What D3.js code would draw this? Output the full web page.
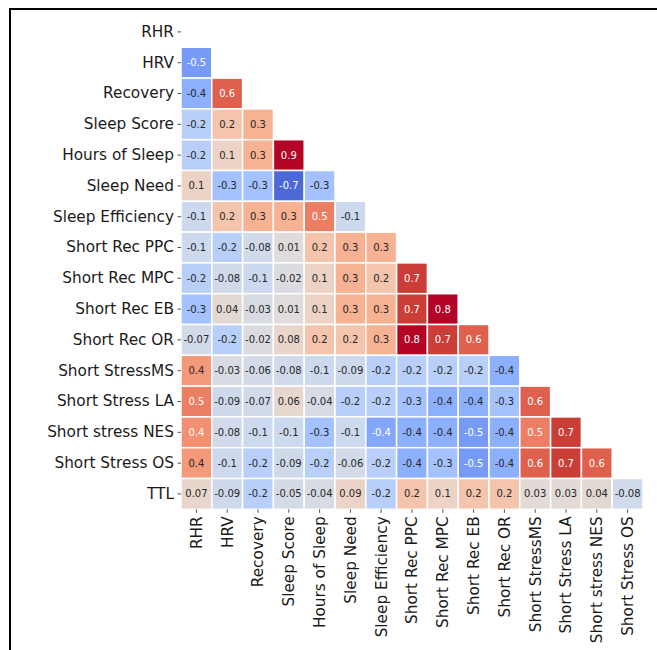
<!DOCTYPE html>
<html lang="en">
<head>
    <meta charset="UTF-8">
    <title>Correlation heatmap</title>
    <script src="https://d3js.org/d3.v7.min.js"></script>
    <style>
        body { margin: 0; background: #fff; }
        svg text { font-family: "DejaVu Sans", sans-serif; }
    </style>
</head>
<body>
    <script>
        const w = 657;
        const h = 650;

        // row labels (y axis) and column labels (x axis, TTL dropped)
        const rowLabels = ["RHR", "HRV", "Recovery", "Sleep Score", "Hours of Sleep", "Sleep Need",
            "Sleep Efficiency", "Short Rec PPC", "Short Rec MPC", "Short Rec EB", "Short Rec OR",
            "Short StressMS", "Short Stress LA", "Short stress NES", "Short Stress OS", "TTL"];
        const colLabels = ["RHR", "HRV", "Recovery", "Sleep Score", "Hours of Sleep", "Sleep Need",
            "Sleep Efficiency", "Short Rec PPC", "Short Rec MPC", "Short Rec EB", "Short Rec OR",
            "Short StressMS", "Short Stress LA", "Short stress NES", "Short Stress OS"];

        // lower triangle values, one array per row (RHR row is fully masked)
        const rowRHR = [];
        const rowHRV = [-0.5];
        const rowRecovery = [-0.4, 0.6];
        const rowSleepScore = [-0.2, 0.2, 0.3];
        const rowHoursSleep = [-0.2, 0.1, 0.3, 0.9];
        const rowSleepNeed = [0.1, -0.3, -0.3, -0.7, -0.3];
        const rowSleepEff = [-0.1, 0.2, 0.3, 0.3, 0.5, -0.1];
        const rowRecPPC = [-0.1, -0.2, -0.08, 0.01, 0.2, 0.3, 0.3];
        const rowRecMPC = [-0.2, -0.08, -0.1, -0.02, 0.1, 0.3, 0.2, 0.7];
        const rowRecEB = [-0.3, 0.04, -0.03, 0.01, 0.1, 0.3, 0.3, 0.7, 0.8];
        const rowRecOR = [-0.07, -0.2, -0.02, 0.08, 0.2, 0.2, 0.3, 0.8, 0.7, 0.6];
        const rowStressMS = [0.4, -0.03, -0.06, -0.08, -0.1, -0.09, -0.2, -0.2, -0.2, -0.2, -0.4];
        const rowStressLA = [0.5, -0.09, -0.07, 0.06, -0.04, -0.2, -0.2, -0.3, -0.4, -0.4, -0.3, 0.6];
        const rowStressNES = [0.44, -0.08, -0.1, -0.1, -0.3, -0.1, -0.44, -0.4, -0.4, -0.5, -0.4, 0.5, 0.7];
        const rowStressOS = [0.4, -0.1, -0.2, -0.09, -0.2, -0.06, -0.2, -0.4, -0.3, -0.5, -0.4, 0.6, 0.7, 0.6];
        const rowTTL = [0.07, -0.09, -0.2, -0.05, -0.04, 0.09, -0.2, 0.2, 0.1, 0.2, 0.2, 0.03, 0.03, 0.04, -0.08];

        const rows = [rowRHR, rowHRV, rowRecovery, rowSleepScore, rowHoursSleep, rowSleepNeed,
            rowSleepEff, rowRecPPC, rowRecMPC, rowRecEB, rowRecOR, rowStressMS, rowStressLA,
            rowStressNES, rowStressOS, rowTTL];

        // coolwarm colormap stops (Moreland)
        const coolwarm = ["#3b4cc0", "#445acc", "#4d68d7", "#5775e1", "#6282ea", "#6c8ef1", "#779af7",
            "#82a5fb", "#8db0fe", "#98b9ff", "#a3c2ff", "#aec9fd", "#b8d0f9", "#c2d5f4", "#ccd9ee",
            "#d5dbe6", "#dddddd", "#e5d8d1", "#ecd3c5", "#f1ccb8", "#f5c4ac", "#f7bb9f", "#f7b193",
            "#f7a686", "#f49a7b", "#f18d6f", "#ec7f63", "#e57059", "#de604d", "#d55042", "#cb3e38",
            "#c0282f", "#b40426"];

        const color = d3.scaleSequential(d3.piecewise(d3.interpolateRgb, coolwarm))
                        .domain([-0.8, 0.8])
                        .clamp(true);

        const fmt = v => d3.format(".1g")(v).replace("\u2212", "-");

        // relative luminance, same rule as seaborn for annotation colour
        const lum = c => {
            const rgb = d3.rgb(c);
            const f = v => { v /= 255; return v <= 0.03928 ? v / 12.92 : Math.pow((v + 0.055) / 1.055, 2.4); };
            return 0.2126 * f(rgb.r) + 0.7152 * f(rgb.g) + 0.0722 * f(rgb.b);
        };

        // flatten into cells
        const cells = [];
        rows.forEach((vals, i) => {
            vals.forEach((v, j) => cells.push({row: rowLabels[i], col: colLabels[j], value: v}));
        });

        const padLeft = 181;
        const padTop = 16.5;
        const cell = 30.8;
        const labelSize = "15.3px";

        const xScale = d3.scaleBand()
                         .domain(colLabels)
                         .range([padLeft, padLeft + cell * colLabels.length]);
        const yScale = d3.scaleBand()
                         .domain(rowLabels)
                         .range([padTop, padTop + cell * rowLabels.length]);

        const svg = d3.select("body")
                      .append("svg")
                      .attr("width", w)
                      .attr("height", h)
                      .attr("viewBox", [0, 0, w, h]);

        // frame of the screenshot
        svg.append("rect")
           .attr("x", 10)
           .attr("y", 9)
           .attr("width", w + 20)
           .attr("height", h + 20)
           .attr("fill", "none")
           .attr("stroke", "#000")
           .attr("stroke-width", 2);

        // cells
        svg.selectAll("rect.cell")
           .data(cells)
           .enter()
           .append("rect")
           .attr("class", "cell")
           .attr("x", d => xScale(d.col))
           .attr("y", d => yScale(d.row))
           .attr("width", xScale.bandwidth())
           .attr("height", yScale.bandwidth())
           .attr("fill", d => color(d.value))
           .attr("stroke", "#fff")
           .attr("stroke-width", 1.5);

        // annotations
        svg.selectAll("text.annot")
           .data(cells)
           .enter()
           .append("text")
           .attr("class", "annot")
           .attr("x", d => xScale(d.col) + xScale.bandwidth() / 2)
           .attr("y", d => yScale(d.row) + yScale.bandwidth() / 2)
           .attr("text-anchor", "middle")
           .attr("dominant-baseline", "central")
           .style("font-size", "10px")
           .style("fill", d => lum(color(d.value)) > 0.408 ? "#262626" : "#fff")
           .text(d => fmt(d.value));

        // axes
        const xAxis = d3.axisBottom(xScale).tickSize(3.5).tickPadding(3.5);
        const yAxis = d3.axisLeft(yScale).tickSize(3.5).tickPadding(3.5);

        const gx = svg.append("g")
                      .attr("transform", `translate(0, ${padTop + cell * rowLabels.length})`)
                      .call(xAxis);
        gx.select(".domain").remove();
        gx.selectAll(".tick line").attr("stroke", "#262626").attr("stroke-width", 0.8);
        gx.selectAll(".tick text")
          .attr("transform", "rotate(-90)")
          .attr("text-anchor", "end")
          .attr("dy", "0.35em")
          .attr("x", -7)
          .attr("y", 0)
          .style("font-size", labelSize)
          .style("fill", "#1a1a1a");

        const gy = svg.append("g")
                      .attr("transform", `translate(${padLeft}, 0)`)
                      .call(yAxis);
        gy.select(".domain").remove();
        gy.selectAll(".tick line").attr("stroke", "#262626").attr("stroke-width", 0.8);
        gy.selectAll(".tick text")
          .style("font-size", labelSize)
          .style("fill", "#1a1a1a");
    </script>
</body>
</html>
